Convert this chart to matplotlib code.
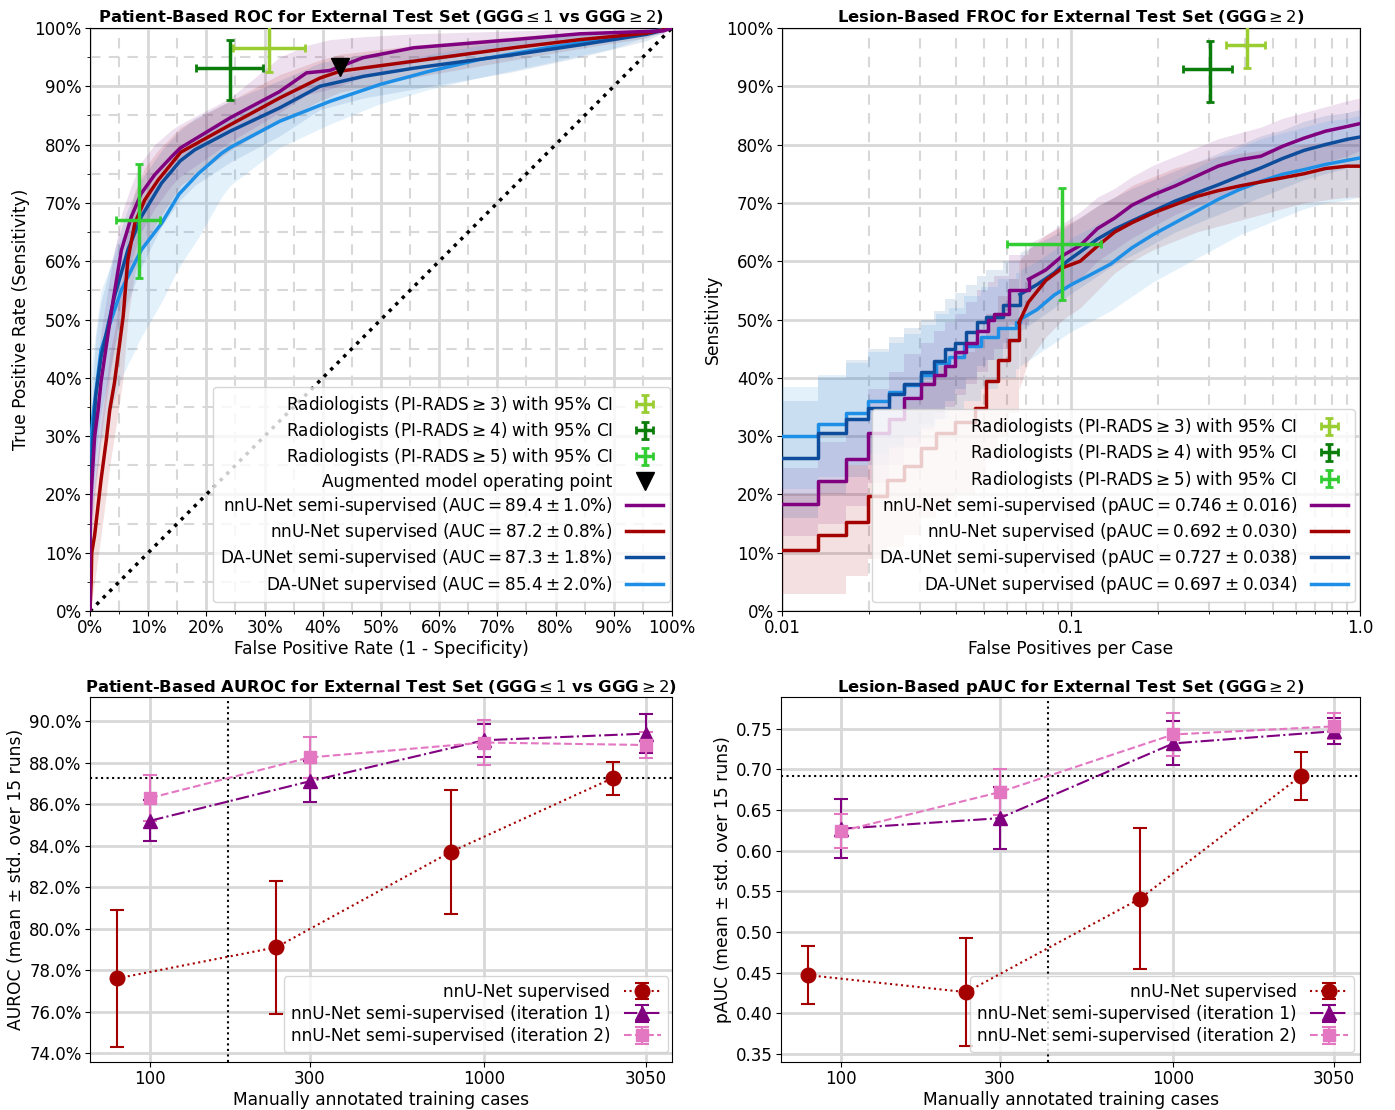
import numpy as np
import matplotlib
matplotlib.use("Agg")
import matplotlib.pyplot as plt
from matplotlib import ticker, transforms

plt.rcParams["font.family"] = ["DejaVu Sans"]
plt.rcParams["mathtext.fontset"] = "dejavusans"
plt.rcParams["xtick.major.pad"] = 2.5
plt.rcParams["ytick.major.pad"] = 2.5

# ---------------- data: patient-based ROC (percent) ----------------
roc_semi_x = [0, 0, 0.2, 0.8, 1.4, 1.9, 3.7, 5.4, 7.1, 8.8, 11.1, 14.0, 15.5, 24.1, 32.6, 37.2, 41.2, 46.9, 55.6, 72.7, 84.2, 98.5, 100]
roc_semi_y = [0, 14, 20, 29.9, 34.5, 39.3, 51.6, 61.9, 67.6, 71.6, 74.8, 77.9, 79.4, 84.6, 89.1, 92.3, 92.7, 94.9, 96.6, 98.0, 99.0, 99.5, 100]
roc_semi_lo = [0, 6, 11, 20, 25, 30, 42, 53, 60, 65, 69, 73, 74.5, 80.5, 85.5, 88.5, 89.5, 91.5, 94, 96.5, 98, 99, 100]
roc_semi_hi = [0, 22, 29, 38, 43, 48, 59, 68, 73, 77, 80, 82.5, 83.5, 88, 95, 97, 98, 98.5, 99, 99.5, 99.8, 100, 100]

roc_sup_x = [0, 0.2, 0.3, 0.8, 1.9, 2.8, 3.4, 4.2, 5.7, 6.5, 7.7, 9.4, 11.7, 15.6, 24.1, 32.6, 39.5, 43.0, 55.6, 72.7, 84.2, 95.6, 100]
roc_sup_y = [0, 4.8, 10, 13, 22.5, 29.3, 34.5, 39.1, 50.5, 60.2, 66.5, 70.5, 73.9, 78.7, 83.4, 88.0, 91.4, 92.6, 94.3, 96.6, 98.0, 99.1, 100]
roc_sup_lo = [0, 0, 2, 5, 13, 20, 25, 30, 40, 50, 58, 63, 67, 73, 79, 84, 87.5, 89, 91.5, 94.5, 96.5, 98.3, 100]
roc_sup_hi = [0, 12, 18, 22, 32, 39, 44, 48, 58, 67, 72, 76, 79, 83, 87.5, 92, 94.5, 95.5, 97, 98.5, 99.3, 99.8, 100]

roc_da_semi_x = [0, 0, 0.3, 0.5, 1.0, 1.9, 4.2, 6.5, 8.8, 12.3, 15.5, 18.0, 24.1, 32.6, 39.5, 47.0, 55.6, 72.7, 84.2, 95.6, 100]
roc_da_semi_y = [0, 21, 25, 29.9, 37, 43.6, 53.9, 61.9, 67.6, 73.4, 77.2, 79.1, 82.3, 86.3, 90.0, 91.7, 93.1, 95.4, 97.1, 98.9, 100]
roc_da_semi_lo = [0, 12, 15, 19, 27, 34, 45, 53, 59, 66, 70.5, 73, 77, 81.5, 86, 88, 89.5, 92.5, 95, 97.8, 100]
roc_da_semi_hi = [0, 30, 35, 40, 47, 53, 62, 69, 74, 79, 82.5, 84.5, 87.5, 91, 94, 95.5, 96.5, 98, 99, 99.7, 100]

roc_da_sup_x = [0, 0, 0.3, 0.5, 1.9, 5.4, 8.8, 12.3, 15.3, 18.6, 22.6, 24.1, 32.6, 41.2, 49.8, 58.4, 67.0, 78.5, 89.9, 100]
roc_da_sup_y = [0, 25, 31, 33.3, 44.8, 55.1, 61.9, 66.5, 71.5, 75, 78.5, 79.5, 84.0, 87.4, 90.3, 92.6, 94.6, 96.6, 98.3, 100]
roc_da_sup_lo = [0, 12, 17, 19, 29, 40, 47, 53, 59, 64, 71, 73, 79.5, 83.5, 87, 89.5, 91.5, 94, 96.5, 100]
roc_da_sup_hi = [0, 36, 42, 44, 55, 64, 70, 74, 78, 81, 84, 85, 89, 91.5, 93.5, 95.5, 97, 98.5, 99.5, 100]

# radiologists on ROC: (FPR, TPR) with CI bounds
roc_rad_x = [30.7, 24.0, 8.5]
roc_rad_y = [96.6, 93.1, 67.1]
roc_rad_xlo = [24.5, 18.3, 4.5]
roc_rad_xhi = [37.0, 29.7, 12.0]
roc_rad_ylo = [92.4, 87.6, 57.1]
roc_rad_yhi = [100.5, 97.9, 76.7]
aug_point = (43.0, 93.3)

# ---------------- data: lesion-based FROC ----------------
froc_semi_x = [0.01, 0.0133, 0.0166, 0.0199, 0.0234, 0.0264, 0.0303, 0.0336, 0.0366, 0.0398, 0.0434, 0.0473, 0.0515, 0.0542, 0.0611, 0.0713, 0.0818, 0.0938, 0.1076, 0.1235, 0.1416, 0.1625, 0.193, 0.229, 0.272, 0.323, 0.383, 0.454, 0.539, 0.640, 0.760, 0.902, 1.0]
froc_semi_y = [18.3, 22.3, 26.0, 30.5, 33.0, 36.5, 39.0, 40.5, 42.0, 44.5, 46.0, 48.0, 50.0, 51.0, 55.0, 56.9, 58.5, 61.0, 62.7, 65.6, 67.4, 69.6, 71.4, 72.9, 74.6, 76.3, 77.4, 78.0, 79.7, 81.1, 82.3, 83.1, 83.6]
froc_semi_lo = [12.8, 15, 18, 22, 25, 28, 31, 33, 35, 37, 39, 41, 43, 45, 49, 51, 53, 55, 57, 60, 62, 64, 66, 68, 69.5, 71, 72.5, 73.5, 75, 76, 77, 78, 79]
froc_semi_hi = [24.5, 29, 33, 38, 41, 44, 46, 48, 49.5, 51, 53, 55, 56.5, 57.5, 61, 63, 64.5, 66.5, 68.5, 71, 72.5, 74.5, 76.5, 78, 79.5, 81, 82, 83, 84.5, 85.5, 86.5, 87.5, 88]

froc_sup_x = [0.01, 0.0133, 0.0166, 0.0199, 0.0230, 0.0264, 0.0303, 0.0342, 0.0398, 0.0466, 0.0506, 0.0561, 0.0611, 0.0661, 0.0713, 0.0818, 0.0938, 0.1076, 0.1235, 0.1416, 0.1625, 0.193, 0.229, 0.272, 0.323, 0.383, 0.454, 0.539, 0.640, 0.760, 0.902, 1.0]
froc_sup_y = [10.5, 13.0, 15.3, 19.8, 22.5, 24.8, 28.0, 30.5, 32.5, 34.8, 39.5, 43.0, 46.5, 49.5, 53.0, 56.7, 58.9, 60.0, 62.6, 65.0, 66.6, 68.3, 69.7, 71.1, 72.1, 72.9, 73.6, 74.3, 75.0, 75.9, 76.3, 76.3]
froc_sup_lo = [3, 3, 6, 9, 11, 13, 16, 18, 20, 22, 26, 30, 34, 38, 43, 47, 50, 52, 55, 58, 60, 62, 63.5, 65, 66, 67, 68, 69, 70, 70.5, 71, 71]
froc_sup_hi = [20, 22.5, 25, 30, 33, 36, 39.5, 42, 44.5, 46.5, 51, 54, 57, 60, 62, 64.5, 66, 67.5, 69.5, 71, 73, 74.5, 76, 77, 78, 78.5, 79, 79.5, 80, 80.5, 81, 81]

froc_da_semi_x = [0.01, 0.0133, 0.0166, 0.0199, 0.0234, 0.0264, 0.0303, 0.0336, 0.0366, 0.0398, 0.0434, 0.0473, 0.0506, 0.0582, 0.0666, 0.0763, 0.0875, 0.097, 0.1076, 0.1235, 0.1416, 0.1625, 0.193, 0.229, 0.272, 0.323, 0.383, 0.454, 0.539, 0.640, 0.760, 0.902, 1.0]
froc_da_semi_y = [26.3, 30.5, 33.0, 34.8, 37.2, 39.0, 41.0, 42.8, 45.0, 46.0, 47.8, 49.5, 50.5, 52.5, 54.3, 56.0, 58.0, 60.0, 61.6, 63.8, 65.5, 66.9, 68.6, 70.3, 71.7, 73.1, 74.6, 76.0, 77.6, 79.0, 80.0, 80.9, 81.3]
froc_da_semi_lo = [16, 20, 23, 25, 28, 30, 32, 34, 36, 38, 40, 42, 43, 46, 48, 50, 52, 54, 55.5, 57.5, 59.5, 61, 63, 65, 66.5, 68, 69.5, 71, 72.5, 74, 75, 76, 76.5]
froc_da_semi_hi = [36, 40, 43, 45, 47, 48.5, 50, 51.5, 53.5, 54.5, 56, 57.5, 58.5, 60, 61.5, 63, 64.5, 66, 67.5, 69.5, 71, 72.5, 74, 75.5, 77, 78.5, 80, 81.5, 82.5, 84, 85, 85.5, 86]

froc_da_sup_x = [0.01, 0.0133, 0.0166, 0.0199, 0.0234, 0.0264, 0.0303, 0.0342, 0.0378, 0.0426, 0.0489, 0.0561, 0.0643, 0.0666, 0.0763, 0.0875, 0.1004, 0.115, 0.137, 0.1625, 0.193, 0.229, 0.272, 0.323, 0.383, 0.454, 0.539, 0.640, 0.760, 0.902, 1.0]
froc_da_sup_y = [30.0, 32.0, 34.0, 36.0, 37.5, 38.8, 40.5, 42.5, 43.5, 45.5, 47.0, 48.5, 49.5, 50.0, 51.7, 54.2, 56.0, 57.5, 59.5, 62.3, 64.6, 66.6, 68.6, 70.6, 72.3, 73.7, 74.9, 75.7, 76.6, 77.3, 77.7]
froc_da_sup_lo = [21, 23, 25, 27, 28.5, 30, 31.5, 33, 34.5, 36, 38, 40, 41.5, 42, 44, 46, 48, 49.5, 51.5, 54, 56.5, 58.5, 60.5, 62.5, 64.5, 66, 67.5, 69, 70, 70.5, 71]
froc_da_sup_hi = [38.5, 40.5, 42.5, 44.5, 46, 47.5, 49, 51, 52, 54, 55.5, 57, 58, 58.5, 60, 62, 64, 65.5, 67.5, 70, 72, 74, 76, 78, 79.5, 81, 82, 83, 84, 84.5, 85]

froc_rad_x = [0.405, 0.303, 0.0932]
froc_rad_y = [97.0, 92.9, 63.0]
froc_rad_xlo = [0.345, 0.245, 0.0601]
froc_rad_xhi = [0.470, 0.361, 0.127]
froc_rad_ylo = [93.1, 87.3, 53.3]
froc_rad_yhi = [100.5, 97.7, 72.6]

# ---------------- data: metrics vs training cases ----------------
cases = [100, 300, 1000, 3050]
auroc_sup = [77.6, 79.1, 83.7, 87.25]
auroc_sup_std = [3.3, 3.2, 3.0, 0.8]
auroc_it1 = [85.2, 87.1, 89.08, 89.4]
auroc_it1_std = [1.0, 1.0, 0.8, 0.95]
auroc_it2 = [86.3, 88.25, 88.97, 88.85]
auroc_it2_std = [1.1, 1.0, 1.08, 0.63]

pauc_sup = [0.447, 0.426, 0.541, 0.692]
pauc_sup_std = [0.036, 0.066, 0.087, 0.030]
pauc_it1 = [0.627, 0.640, 0.732, 0.747]
pauc_it1_std = [0.036, 0.038, 0.027, 0.016]
pauc_it2 = [0.624, 0.672, 0.743, 0.753]
pauc_it2_std = [0.021, 0.028, 0.026, 0.016]

rad_labels = [r"Radiologists (PI-RADS$\geq3$) with 95% CI",
              r"Radiologists (PI-RADS$\geq4$) with 95% CI",
              r"Radiologists (PI-RADS$\geq5$) with 95% CI"]
roc_labels = [r"nnU-Net semi-supervised (AUC$=89.4\pm1.0$%)",
              r"nnU-Net supervised (AUC$=87.2\pm0.8$%)",
              r"DA-UNet semi-supervised (AUC$=87.3\pm1.8$%)",
              r"DA-UNet supervised (AUC$=85.4\pm2.0$%)"]
froc_labels = [r"nnU-Net semi-supervised (pAUC$=0.746\pm0.016$)",
               r"nnU-Net supervised (pAUC$=0.692\pm0.030$)",
               r"DA-UNet semi-supervised (pAUC$=0.727\pm0.038$)",
               r"DA-UNet supervised (pAUC$=0.697\pm0.034$)"]
sweep_labels = ["nnU-Net supervised",
                "nnU-Net semi-supervised (iteration 1)",
                "nnU-Net semi-supervised (iteration 2)"]

# ---------------- styling ----------------
model_colors = ["#800080", "#a50000", "#0d4d9c", "#1e8fe6"]
rad_colors = ["#9acd32", "#0a7d0a", "#32cd32"]
c_sup, c_it1, c_it2 = "#a50000", "#800080", "#e377c2"
grid_c = "#d8d8d8"
FS = 12.3
LFS = 12.2
TFS = 11.8
BAND_ALPHA = 0.12
STEP_END = 0.065   # FROC drawn as coarse steps below this FP rate


def crossing(xs, ys, level):
    for i in range(len(xs) - 1):
        if ys[i] <= level <= ys[i + 1]:
            f = (level - ys[i]) / (ys[i + 1] - ys[i])
            lx = np.log10(xs[i]) + f * (np.log10(xs[i + 1]) - np.log10(xs[i]))
            return 10 ** lx
    return xs[0]


def rad_errorbars(ax, xs, ys, xlo, xhi, ylo, yhi):
    hs = []
    for i in range(3):
        h = ax.errorbar([xs[i]], [ys[i]],
                        xerr=[[xs[i] - xlo[i]], [xhi[i] - xs[i]]],
                        yerr=[[ys[i] - ylo[i]], [yhi[i] - ys[i]]],
                        fmt="none", ecolor=rad_colors[i], elinewidth=2.5,
                        capsize=3, capthick=2, zorder=6)
        hs.append(h)
    return hs


def legend(ax, handles, labels, anchor):
    ax.legend(handles, labels, loc="lower right", bbox_to_anchor=anchor,
              borderaxespad=0, fontsize=LFS, markerfirst=False, framealpha=0.8,
              edgecolor="#cccccc", labelspacing=0.25, handlelength=2.2)


fig = plt.figure(figsize=(13.95, 11.10), dpi=100)
ax_roc = fig.add_axes([0.0645, 0.4495, 0.4172, 0.5253])
ax_froc = fig.add_axes([0.5606, 0.4495, 0.4143, 0.5253])
ax_auc = fig.add_axes([0.0645, 0.0432, 0.4172, 0.3288])
ax_pauc = fig.add_axes([0.5599, 0.0432, 0.4151, 0.3288])

for ax in [ax_roc, ax_froc, ax_auc, ax_pauc]:
    ax.set_axisbelow(True)
    ax.tick_params(labelsize=12)
    for s in ax.spines.values():
        s.set_color("black")

# ---- ROC ----
roc_sets = [(roc_semi_x, roc_semi_y, roc_semi_lo, roc_semi_hi),
            (roc_sup_x, roc_sup_y, roc_sup_lo, roc_sup_hi),
            (roc_da_semi_x, roc_da_semi_y, roc_da_semi_lo, roc_da_semi_hi),
            (roc_da_sup_x, roc_da_sup_y, roc_da_sup_lo, roc_da_sup_hi)]
ax_roc.plot([0, 100], [0, 100], ls=":", color="black", lw=2.5, zorder=2)
for (x, y, lo, hi), col in zip(roc_sets, model_colors):
    ax_roc.fill_between(x, lo, hi, color=col, alpha=BAND_ALPHA, lw=0, zorder=3)
lines = []
for (x, y, lo, hi), col in reversed(list(zip(roc_sets, model_colors))):
    l, = ax_roc.plot(x, y, color=col, lw=2.5, zorder=4)
    lines.insert(0, l)
rads = rad_errorbars(ax_roc, roc_rad_x, roc_rad_y, roc_rad_xlo, roc_rad_xhi, roc_rad_ylo, roc_rad_yhi)
aug, = ax_roc.plot([aug_point[0]], [aug_point[1]], "v", color="black", ms=13, ls="none", zorder=7)
ax_roc.set_xlim(0, 100)
ax_roc.set_ylim(0, 100)
for axis in [ax_roc.xaxis, ax_roc.yaxis]:
    axis.set_major_locator(ticker.MultipleLocator(10))
    axis.set_minor_locator(ticker.MultipleLocator(5))
    axis.set_major_formatter(ticker.FuncFormatter(lambda v, p: f"{v:.0f}%"))
ax_roc.grid(which="major", color=grid_c, lw=2)
ax_roc.grid(which="minor", color=grid_c, lw=1.5, ls=(0, (5, 4)))
ax_roc.set_xlabel("False Positive Rate (1 - Specificity)", fontsize=FS, labelpad=2)
ax_roc.set_ylabel("True Positive Rate (Sensitivity)", fontsize=FS, labelpad=3)
ax_roc.set_title(r"Patient-Based ROC for External Test Set (GGG$\leq1$ vs GGG$\geq2$)",
                 fontsize=TFS, fontweight="bold", pad=4)
legend(ax_roc, rads + [aug] + lines,
       rad_labels + ["Augmented model operating point"] + roc_labels, (0.997, 0.015))

# ---- FROC ----
froc_sets = [(froc_semi_x, froc_semi_y, froc_semi_lo, froc_semi_hi),
             (froc_sup_x, froc_sup_y, froc_sup_lo, froc_sup_hi),
             (froc_da_semi_x, froc_da_semi_y, froc_da_semi_lo, froc_da_semi_hi),
             (froc_da_sup_x, froc_da_sup_y, froc_da_sup_lo, froc_da_sup_hi)]
for (x, y, lo, hi), col in zip(froc_sets, model_colors):
    k = int(np.searchsorted(x, STEP_END))
    ax_froc.fill_between(x[:k + 1], lo[:k + 1], hi[:k + 1], color=col, alpha=BAND_ALPHA,
                         lw=0, step="post", zorder=3)
    ax_froc.fill_between(x[k:], lo[k:], hi[k:], color=col, alpha=BAND_ALPHA, lw=0, zorder=3)
flines = []
for (x, y, lo, hi), col in reversed(list(zip(froc_sets, model_colors))):
    k = int(np.searchsorted(x, STEP_END))
    l, = ax_froc.plot(x[:k + 1], y[:k + 1], color=col, lw=2.5, drawstyle="steps-post", zorder=4)
    ax_froc.plot(x[k:], y[k:], color=col, lw=2.5, zorder=4)
    flines.insert(0, l)
frads = rad_errorbars(ax_froc, froc_rad_x, froc_rad_y, froc_rad_xlo, froc_rad_xhi, froc_rad_ylo, froc_rad_yhi)
ax_froc.set_xscale("log")
ax_froc.set_xlim(0.01, 1.0)
ax_froc.set_ylim(0, 100)
ax_froc.xaxis.set_major_locator(ticker.FixedLocator([0.01, 0.1, 1.0]))
ax_froc.xaxis.set_major_formatter(ticker.FixedFormatter(["0.01", "0.1", "1.0"]))
ax_froc.xaxis.set_minor_locator(ticker.LogLocator(base=10, subs=np.arange(2, 10)))
ax_froc.xaxis.set_minor_formatter(ticker.NullFormatter())
ax_froc.yaxis.set_major_locator(ticker.MultipleLocator(10))
ax_froc.yaxis.set_major_formatter(ticker.FuncFormatter(lambda v, p: f"{v:.0f}%"))
ax_froc.grid(which="major", color=grid_c, lw=2)
ax_froc.grid(which="minor", axis="x", color=grid_c, lw=1.5, ls=(0, (5, 4)))
ax_froc.set_xlabel("False Positives per Case", fontsize=FS, labelpad=2)
ax_froc.set_ylabel("Sensitivity", fontsize=FS, labelpad=3)
ax_froc.set_title(r"Lesion-Based FROC for External Test Set (GGG$\geq2$)",
                  fontsize=TFS, fontweight="bold", pad=4)
legend(ax_froc, frads + flines, rad_labels + froc_labels, (0.991, 0.015))


# ---- metric vs number of annotated cases ----
def sweep(ax, sup, sup_s, it1, it1_s, it2, it2_s, ylim, yfmt, ylabel, title, anchor):
    shift = transforms.offset_copy(ax.transData, fig=fig, x=-24, y=0, units="points")
    h0 = ax.errorbar(cases, sup, yerr=sup_s, fmt="o:", color=c_sup, ms=10.5, lw=1.5,
                     capsize=5, capthick=1.5, transform=shift, zorder=5)
    h1 = ax.errorbar(cases, it1, yerr=it1_s, fmt="^-.", color=c_it1, ms=10, lw=1.5,
                     capsize=5, capthick=1.5, zorder=5)
    h2 = ax.errorbar(cases, it2, yerr=it2_s, fmt="s--", color=c_it2, ms=8, lw=1.5,
                     capsize=5, capthick=1.5, zorder=5)
    ax.axhline(sup[-1], color="black", ls=":", lw=1.5, zorder=4)
    ax.axvline(crossing(cases, it2, sup[-1]), color="black", ls=":", lw=1.5, zorder=4)
    ax.set_xscale("log")
    ax.set_xlim(66, 3650)
    ax.set_ylim(*ylim)
    ax.xaxis.set_major_locator(ticker.FixedLocator(cases))
    ax.xaxis.set_major_formatter(ticker.FixedFormatter([str(c) for c in cases]))
    ax.xaxis.set_minor_locator(ticker.NullLocator())
    ax.yaxis.set_major_formatter(ticker.FuncFormatter(yfmt))
    ax.grid(which="major", color=grid_c, lw=2)
    ax.set_xlabel("Manually annotated training cases", fontsize=FS, labelpad=2)
    ax.set_ylabel(ylabel, fontsize=FS, labelpad=3)
    ax.set_title(title, fontsize=TFS, fontweight="bold", pad=4)
    legend(ax, [h0, h1, h2], sweep_labels, anchor)


sweep(ax_auc, auroc_sup, auroc_sup_std, auroc_it1, auroc_it1_std, auroc_it2, auroc_it2_std,
      (73.57, 91.16), lambda v, p: f"{v:.1f}%", "AUROC (mean ± std. over 15 runs)",
      r"Patient-Based AUROC for External Test Set (GGG$\leq1$ vs GGG$\geq2$)", (0.993, 0.027))
ax_auc.yaxis.set_major_locator(ticker.MultipleLocator(2))
sweep(ax_pauc, pauc_sup, pauc_sup_std, pauc_it1, pauc_it1_std, pauc_it2, pauc_it2_std,
      (0.340, 0.789), lambda v, p: f"{v:.2f}", "pAUC (mean ± std. over 15 runs)",
      r"Lesion-Based pAUC for External Test Set (GGG$\geq2$)", (0.990, 0.027))
ax_pauc.yaxis.set_major_locator(ticker.MultipleLocator(0.05))

fig.savefig("out.png", dpi=100)
